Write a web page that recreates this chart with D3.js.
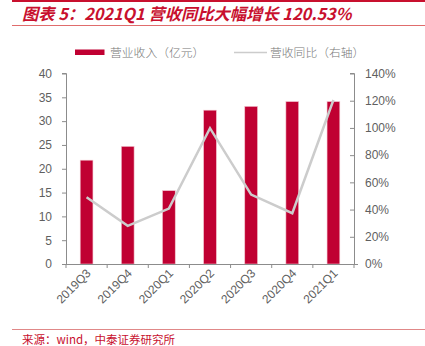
<!DOCTYPE html>
<html>
<head>
<meta charset="utf-8">
<script src="https://cdn.jsdelivr.net/npm/d3@7"></script>
<style>
  html, body { margin: 0; padding: 0; background: #fff; }
  svg { display: block; }
</style>
</head>
<body>
<svg id="chart" width="425" height="346"></svg>
<script>
// Quarterly revenue (100M yuan) and YoY growth (%)
const quarters = ["2019Q3", "2019Q4", "2020Q1", "2020Q2", "2020Q3", "2020Q4", "2021Q1"];
const revenue = [21.8, 24.7, 15.4, 32.3, 33.1, 34.1, 34.1];
const yoyGrowth = [49.0, 28.0, 40.7, 99.8, 51.0, 37.3, 120.53];
const leftTicks = [0, 5, 10, 15, 20, 25, 30, 35, 40];
const rightTicks = [0, 20, 40, 60, 80, 100, 120, 140];

const titleText = "图表 5：2021Q1 营收同比大幅增长 120.53%";
const sourceText = "来源：wind，中泰证券研究所";
const legendBar = "营业收入（亿元）";
const legendLine = "营收同比（右轴）";

const red = "#c00032";
const brandRed = "#c8102e";
const grey = "#cccccc";
const axisGrey = "#8c8c8c";
const textGrey = "#5f5f5f";
const cjk = "'Noto Sans CJK SC', sans-serif";
const latin = "'Liberation Sans', Arial, sans-serif";

const svg = d3.select("#chart");
const m = { left: 66, right: 354, top: 73.5, bottom: 264 };

// Header and footer rules
svg.append("rect").attr("x", 12).attr("y", 0).attr("width", 413).attr("height", 2).attr("fill", brandRed);
svg.append("line").attr("x1", 12).attr("x2", 425).attr("y1", 25.5).attr("y2", 25.5)
  .attr("stroke", "#e06c6c").attr("stroke-width", 1);
svg.append("line").attr("x1", 12).attr("x2", 425).attr("y1", 329.5).attr("y2", 329.5)
  .attr("stroke", "#e08888").attr("stroke-width", 1);

svg.append("text").attr("x", 22).attr("y", 20)
  .attr("font-family", cjk).attr("font-size", 16.3).attr("font-weight", 700)
  .attr("font-style", "italic").attr("fill", brandRed).text(titleText);

svg.append("text").attr("x", 22).attr("y", 344)
  .attr("font-family", cjk).attr("font-size", 11.5).attr("fill", brandRed).text(sourceText);

// Scales
const x = d3.scaleBand().domain(quarters).range([m.left, m.right]).paddingInner(0.69).paddingOuter(0.345);
const xTicks = d3.scaleBand().domain(quarters).range([m.left, m.right]);
const yL = d3.scaleLinear().domain([0, 40]).range([m.bottom, m.top]);
const yR = d3.scaleLinear().domain([0, 140]).range([m.bottom, m.top]);

// Bars
svg.append("g").selectAll("rect").data(quarters).join("rect")
  .attr("x", d => x(d))
  .attr("width", x.bandwidth())
  .attr("y", (d, i) => yL(revenue[i]))
  .attr("height", (d, i) => m.bottom - yL(revenue[i]))
  .attr("fill", red)
  .attr("stroke", "#f2c4cf").attr("stroke-width", 0.6);

// Growth line
const line = d3.line()
  .x((d, i) => xTicks(quarters[i]) + xTicks.bandwidth() / 2)
  .y(d => yR(d));
svg.append("path").datum(yoyGrowth).attr("d", line)
  .attr("fill", "none").attr("stroke", grey).attr("stroke-width", 2.5)
  .attr("stroke-linejoin", "miter");

// Left axis
const gL = svg.append("g").attr("transform", `translate(${m.left},0)`)
  .call(d3.axisLeft(yL).tickValues(leftTicks).tickSize(4).tickPadding(10));
// Right axis
const gR = svg.append("g").attr("transform", `translate(${m.right},0)`)
  .call(d3.axisRight(yR).tickValues(rightTicks).tickFormat(d => d + "%").tickSize(-4).tickPadding(11));
// X axis with boundary ticks
const gX = svg.append("g").attr("transform", `translate(0,${m.bottom})`)
  .call(d3.axisBottom(xTicks).tickSize(0).tickPadding(0));
gX.select(".domain").attr("d", `M${m.left - 4},0.5H${m.right + 4}`);
gX.selectAll(".tick line").remove();
gX.selectAll(".bound").data(d3.range(quarters.length + 1)).join("line")
  .attr("class", "bound")
  .attr("x1", i => m.left + i * xTicks.step())
  .attr("x2", i => m.left + i * xTicks.step())
  .attr("y1", 0).attr("y2", 4)
  .attr("stroke", axisGrey);

[gL, gR, gX].forEach(g => {
  g.select(".domain").attr("stroke", axisGrey);
  g.selectAll(".tick line").attr("stroke", axisGrey);
  g.selectAll("text").attr("font-family", latin).attr("font-size", 12).attr("fill", textGrey);
});
gL.select(".domain").attr("d", `M-4,${m.top}H0.5V${m.bottom}`);
gR.select(".domain").attr("d", `M-4,${m.top}H0.5V${m.bottom}`);

gX.selectAll(".tick text")
  .attr("text-anchor", "end")
  .attr("dy", 0)
  .attr("transform", "translate(5,10) rotate(-45)");

// Legend
const lg = svg.append("g");
lg.append("rect").attr("x", 75).attr("y", 49.5).attr("width", 29.5).attr("height", 5.5).attr("fill", red);
lg.append("text").attr("x", 110).attr("y", 56.5).attr("font-family", cjk).attr("font-size", 11.8)
  .attr("font-weight", 300).attr("fill", "#777").text(legendBar);
lg.append("line").attr("x1", 234).attr("x2", 267).attr("y1", 52.5).attr("y2", 52.5)
  .attr("stroke", grey).attr("stroke-width", 1.5);
lg.append("text").attr("x", 270).attr("y", 56.5).attr("font-family", cjk).attr("font-size", 11.8)
  .attr("font-weight", 300).attr("fill", "#777").text(legendLine);
</script>
</body>
</html>
